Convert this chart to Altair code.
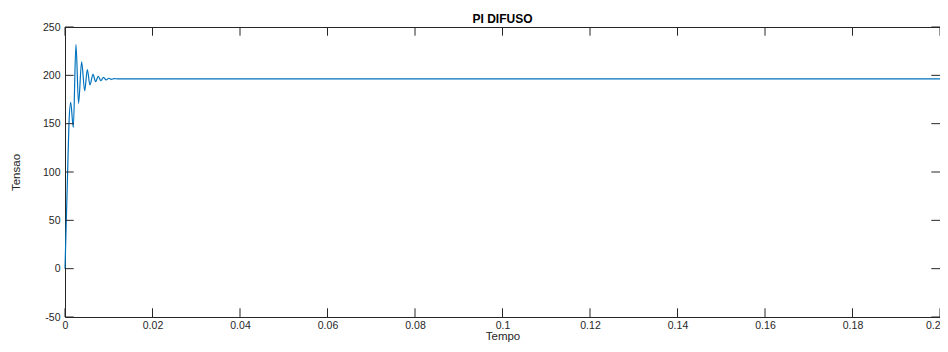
import altair as alt
import pandas as pd

# time (s) and voltage values
tempo = [0, 0.0003, 0.0006, 0.0009, 0.0013, 0.0019, 0.0025, 0.0031, 0.0038,
         0.0045, 0.0051, 0.0057, 0.0064, 0.0070, 0.0076, 0.0082, 0.0088,
         0.0094, 0.0100, 0.0106, 0.0112, 0.0120, 0.2]
tensao = [0, 50, 100, 149, 172, 146, 232, 171, 214,
          184, 206, 190, 201, 193.5, 199, 194.5, 197.8,
          195.2, 197, 195.8, 196.6, 196.3, 196.3]

x_ticks = [0, 0.02, 0.04, 0.06, 0.08, 0.1, 0.12, 0.14, 0.16, 0.18, 0.2]
y_ticks = [-50, 0, 50, 100, 150, 200, 250]

W, H = 875, 290
TL = 8.7
AX = "#262626"
FONT = "Liberation Sans"

df = pd.DataFrame({"t": tempo, "v": tensao})
dx = pd.DataFrame({"t": x_ticks})
dy = pd.DataFrame({"v": y_ticks})

xscale = alt.Scale(domain=[0, 0.2], nice=False, zero=False)
yscale = alt.Scale(domain=[-50, 250], nice=False, zero=False)

xaxis = alt.Axis(values=x_ticks, tickSize=0, ticks=False, domain=False, grid=False,
                 labelExpr="'' + datum.value",
                 labelAlign={"expr": "datum.value >= 0.2 ? 'right' : 'center'"},
                 labelFlush=False, labelPadding=3, titlePadding=0,
                 labelFontSize=10.5, titleFontSize=11.5,
                 labelColor=AX, titleColor=AX, titleFontWeight="normal",
                 labelFont=FONT, titleFont=FONT)
yaxis = alt.Axis(values=y_ticks, tickSize=0, ticks=False, domain=False, grid=False,
                 labelExpr="'' + datum.value",
                 labelPadding=5, titlePadding=21,
                 labelFontSize=10.5, titleFontSize=11.5,
                 labelColor=AX, titleColor=AX, titleFontWeight="normal",
                 labelFont=FONT, titleFont=FONT)

line = alt.Chart(df).mark_line(color="#0072BD", strokeWidth=1.2, interpolate="monotone").encode(
    x=alt.X("t:Q", scale=xscale, title="Tempo", axis=xaxis),
    y=alt.Y("v:Q", scale=yscale, title="Tensao", axis=yaxis),
)

xt_bottom = alt.Chart(dx).mark_rule(color=AX, strokeWidth=1).encode(
    x=alt.X("t:Q", scale=xscale, title="Tempo", axis=xaxis), y=alt.value(H), y2=alt.value(H - TL))
xt_top = alt.Chart(dx).mark_rule(color=AX, strokeWidth=1).encode(
    x=alt.X("t:Q", scale=xscale, title="Tempo", axis=xaxis), y=alt.value(0), y2=alt.value(TL))
yt_left = alt.Chart(dy).mark_rule(color=AX, strokeWidth=1).encode(
    y=alt.Y("v:Q", scale=yscale, title="Tensao", axis=yaxis), x=alt.value(0), x2=alt.value(TL))
yt_right = alt.Chart(dy).mark_rule(color=AX, strokeWidth=1).encode(
    y=alt.Y("v:Q", scale=yscale, title="Tensao", axis=yaxis), x=alt.value(W), x2=alt.value(W - TL))

chart = alt.layer(line, xt_bottom, xt_top, yt_left, yt_right).properties(
    width=W, height=H,
    title=alt.TitleParams("PI DIFUSO", fontSize=12, fontWeight="bold", font=FONT,
                          color="#000000", anchor="middle", offset=-4),
    autosize=alt.AutoSizeParams(type="none"),
    padding={"left": 57, "top": 19, "right": 0, "bottom": 27},
).configure(background="white",
            view=alt.ViewConfig(stroke=AX, strokeWidth=1))

chart.save("out.html", embed_options={"renderer": "svg", "actions": False})
